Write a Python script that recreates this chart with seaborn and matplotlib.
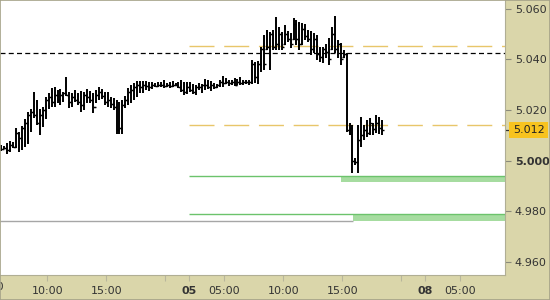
import numpy as np
import pandas as pd
import matplotlib
matplotlib.use("Agg")
import matplotlib.pyplot as plt
import matplotlib.transforms as mtransforms
from matplotlib.patches import Rectangle
import seaborn as sns

# ---------------- data (15-minute OHLC bars, session-hour axis) ----------------
high = [5.0061, 5.0057, 5.0069, 5.0077, 5.0073, 5.0128, 5.0113, 5.0136, 5.0164, 5.0192,
        5.0203, 5.0271, 5.0239, 5.0203, 5.0211, 5.0251, 5.0267, 5.0286, 5.0290, 5.0279,
        5.0282, 5.0271, 5.0330, 5.0271, 5.0267, 5.0279, 5.0267, 5.0275, 5.0271, 5.0282,
        5.0275, 5.0267, 5.0279, 5.0290, 5.0282, 5.0271, 5.0271, 5.0251, 5.0247, 5.0239,
        5.0231, 5.0239, 5.0255, 5.0286, 5.0298, 5.0306, 5.0314, 5.0314, 5.0314, 5.0314,
        5.0310, 5.0310, 5.0306, 5.0310, 5.0310, 5.0318, 5.0306, 5.0310, 5.0314, 5.0306,
        5.0310, 5.0318, 5.0310, 5.0310, 5.0310, 5.0302, 5.0298, 5.0306, 5.0302, 5.0322,
        5.0318, 5.0314, 5.0306, 5.0302, 5.0318, 5.0334, 5.0326, 5.0318, 5.0318, 5.0326,
        5.0322, 5.0330, 5.0318, 5.0318, 5.0318, 5.0397, 5.0389, 5.0393, 5.0448, 5.0496,
        5.0516, 5.0508, 5.0516, 5.0567, 5.0527, 5.0508, 5.0535, 5.0512, 5.0504, 5.0563,
        5.0555, 5.0547, 5.0543, 5.0539, 5.0516, 5.0512, 5.0504, 5.0496, 5.0448, 5.0448,
        5.0460, 5.0484, 5.0527, 5.0571, 5.0476, 5.0464, 5.0437, 5.0425, 5.0148, 5.0140,
        5.0010, 5.0140, 5.0172, 5.0140, 5.0160, 5.0168, 5.0148, 5.0180, 5.0172, 5.0160]
low = [5.0037, 5.0045, 5.0026, 5.0034, 5.0049, 5.0049, 5.0034, 5.0041, 5.0053, 5.0065,
       5.0113, 5.0168, 5.0140, 5.0101, 5.0132, 5.0164, 5.0203, 5.0211, 5.0211, 5.0227,
       5.0219, 5.0231, 5.0255, 5.0207, 5.0211, 5.0231, 5.0219, 5.0192, 5.0200, 5.0227,
       5.0227, 5.0188, 5.0227, 5.0239, 5.0243, 5.0219, 5.0211, 5.0207, 5.0200, 5.0105,
       5.0105, 5.0105, 5.0207, 5.0219, 5.0227, 5.0239, 5.0251, 5.0267, 5.0267, 5.0279,
       5.0275, 5.0282, 5.0290, 5.0290, 5.0290, 5.0286, 5.0290, 5.0286, 5.0290, 5.0294,
       5.0286, 5.0271, 5.0259, 5.0263, 5.0271, 5.0263, 5.0259, 5.0279, 5.0267, 5.0279,
       5.0282, 5.0275, 5.0282, 5.0286, 5.0290, 5.0290, 5.0302, 5.0294, 5.0298, 5.0294,
       5.0298, 5.0298, 5.0298, 5.0302, 5.0298, 5.0302, 5.0306, 5.0302, 5.0350, 5.0358,
       5.0437, 5.0358, 5.0437, 5.0437, 5.0437, 5.0437, 5.0456, 5.0468, 5.0444, 5.0476,
       5.0456, 5.0437, 5.0456, 5.0476, 5.0468, 5.0417, 5.0425, 5.0397, 5.0389, 5.0385,
       5.0405, 5.0377, 5.0437, 5.0425, 5.0405, 5.0377, 5.0405, 5.0113, 5.0101, 4.9951,
       4.9982, 4.9951, 5.0053, 5.0081, 5.0093, 5.0101, 5.0101, 5.0109, 5.0105, 5.0101]
open_ = [5.0050, 5.0045, 5.0050, 5.0040, 5.0060, 5.0055, 5.0110, 5.0090, 5.0130, 5.0150,
         5.0180, 5.0190, 5.0180, 5.0150, 5.0180, 5.0200, 5.0240, 5.0250, 5.0230, 5.0260,
         5.0240, 5.0260, 5.0265, 5.0260, 5.0230, 5.0250, 5.0240, 5.0230, 5.0220, 5.0260,
         5.0250, 5.0240, 5.0210, 5.0260, 5.0270, 5.0255, 5.0230, 5.0240, 5.0225, 5.0210,
         5.0120, 5.0130, 5.0220, 5.0240, 5.0270, 5.0280, 5.0290, 5.0300, 5.0290, 5.0300,
         5.0295, 5.0290, 5.0300, 5.0295, 5.0300, 5.0300, 5.0295, 5.0300, 5.0295, 5.0300,
         5.0300, 5.0290, 5.0280, 5.0270, 5.0290, 5.0280, 5.0270, 5.0290, 5.0290, 5.0300,
         5.0300, 5.0290, 5.0300, 5.0290, 5.0300, 5.0310, 5.0305, 5.0310, 5.0305, 5.0310,
         5.0300, 5.0310, 5.0305, 5.0310, 5.0310, 5.0310, 5.0380, 5.0330, 5.0380, 5.0440,
         5.0440, 5.0450, 5.0500, 5.0450, 5.0460, 5.0500, 5.0460, 5.0500, 5.0480, 5.0480,
         5.0540, 5.0480, 5.0460, 5.0520, 5.0490, 5.0480, 5.0440, 5.0480, 5.0420, 5.0410,
         5.0440, 5.0430, 5.0440, 5.0500, 5.0440, 5.0460, 5.0410, 5.0420, 5.0120, 5.0130,
         5.0000, 4.9995, 5.0080, 5.0100, 5.0120, 5.0110, 5.0140, 5.0125, 5.0150, 5.0130]
close = [5.0045, 5.0050, 5.0040, 5.0060, 5.0055, 5.0110, 5.0090, 5.0130, 5.0150, 5.0180,
         5.0190, 5.0180, 5.0150, 5.0180, 5.0200, 5.0240, 5.0250, 5.0230, 5.0260, 5.0240,
         5.0260, 5.0265, 5.0260, 5.0230, 5.0250, 5.0240, 5.0230, 5.0220, 5.0260, 5.0250,
         5.0240, 5.0210, 5.0260, 5.0270, 5.0255, 5.0230, 5.0240, 5.0225, 5.0210, 5.0120,
         5.0130, 5.0220, 5.0240, 5.0270, 5.0280, 5.0290, 5.0300, 5.0290, 5.0300, 5.0295,
         5.0290, 5.0300, 5.0295, 5.0300, 5.0300, 5.0295, 5.0300, 5.0295, 5.0300, 5.0300,
         5.0290, 5.0280, 5.0270, 5.0290, 5.0280, 5.0270, 5.0290, 5.0290, 5.0300, 5.0300,
         5.0290, 5.0300, 5.0290, 5.0300, 5.0310, 5.0305, 5.0310, 5.0305, 5.0310, 5.0300,
         5.0310, 5.0305, 5.0310, 5.0310, 5.0310, 5.0380, 5.0330, 5.0380, 5.0440, 5.0380,
         5.0450, 5.0500, 5.0450, 5.0460, 5.0500, 5.0450, 5.0500, 5.0480, 5.0460, 5.0540,
         5.0480, 5.0460, 5.0520, 5.0490, 5.0480, 5.0440, 5.0480, 5.0420, 5.0410, 5.0440,
         5.0430, 5.0400, 5.0500, 5.0440, 5.0460, 5.0400, 5.0420, 5.0120, 5.0130, 5.0000,
         4.9995, 5.0080, 5.0100, 5.0120, 5.0110, 5.0150, 5.0125, 5.0150, 5.0130, 5.0120]

black_level = 5.0426
gold_levels = [5.0452, 5.0140]
green_levels = [4.9939, 4.9787]
zone_bottoms = [4.9914, 4.9761]
zone_starts = [28.9, 29.9]      # session hours
gray_level = 4.9761
last_price = 5.012

tick_hours = [4, 9, 14, 16, 19, 24, 29, 34, 36, 39]
tick_labels = ["10:00", "15:00", "", "05", "05:00", "10:00", "15:00", "", "08", "05:00"]
ytick_vals = [4.960, 4.980, 5.000, 5.020, 5.040, 5.060]

# ---------------- figure ----------------
sns.set_theme(style="white")
plt.rcParams["font.family"] = ["DejaVu Sans"]

BAND = "#dad6aa"
FS = 8.0
fig = plt.figure(figsize=(5.5, 3.0), dpi=100)
fig.patch.set_facecolor(BAND)
ax = fig.add_axes([0, 25 / 300, 505 / 550, 275 / 300])
ax.set_facecolor("white")

n = len(high)
df = pd.DataFrame({"t": 0.125 + 0.25 * np.arange(n), "open": open_, "high": high,
                   "low": low, "close": close})

day2 = 16.0
xmax = 42.8

# levels
ax.hlines(gray_level, 0, zone_starts[1], color="#a6a6a6", lw=1.0, zorder=1)
for lv, zb, zs in zip(green_levels, zone_bottoms, zone_starts):
    ax.add_patch(Rectangle((zs, zb), xmax - zs, lv - zb, facecolor="#a6dca0",
                           edgecolor="none", zorder=1))
    ax.hlines(lv, day2, xmax, color="#6cc36c", lw=1.0, zorder=2)
for lv in gold_levels:
    ax.hlines(lv, day2, xmax, color="#e8c66a", lw=1.0, linestyles=(0, (18, 7)), zorder=2)
ax.hlines(black_level, 0, xmax, color="black", lw=0.9, linestyles=(0, (4, 2.6)), zorder=2)

# OHLC bars
ax.vlines(df["t"], df["low"], df["high"], color="black", lw=1.4, zorder=3)
ax.plot(df["t"], df["open"], ls="none", marker=0, ms=1.7, mew=1.0, color="black", zorder=3)
ax.plot(df["t"], df["close"], ls="none", marker=1, ms=1.7, mew=1.0, color="black", zorder=3)

ax.set_xlim(0, xmax)
ax.set_ylim(4.9548, 5.0634)

# axes styling
for s in ["left", "top"]:
    ax.spines[s].set_visible(False)
for s in ["right", "bottom"]:
    ax.spines[s].set_color("#b0ae94")
    ax.spines[s].set_linewidth(0.8)

ax.yaxis.tick_right()
ax.set_yticks(ytick_vals)
ax.set_yticklabels([f"{v:.3f}" for v in ytick_vals])
for lab, v in zip(ax.get_yticklabels(), ytick_vals):
    if abs(v - 5.0) < 1e-9:
        lab.set_fontweight("bold")
ax.tick_params(axis="y", direction="out", length=4, width=0.8, color="#8a8a7a",
               labelsize=FS, labelcolor="#333333", pad=3, right=True, left=False)

ax.set_xticks(tick_hours)
ax.set_xticklabels(tick_labels)
for lab in ax.get_xticklabels():
    if lab.get_text() in ("05", "08"):
        lab.set_fontweight("bold")
ax.tick_params(axis="x", direction="out", length=4, width=0.8, color="#b8b69c",
               labelsize=FS, labelcolor="#333333", pad=4, bottom=True)
ax.set_xlabel("")
ax.set_ylabel("")

# partial label at the left edge
ax.text(-1, -0.044, "05:00", transform=ax.get_xaxis_transform(), ha="center",
        va="center", fontsize=FS, color="#333333", clip_on=False)

# last price label
trans = mtransforms.blended_transform_factory(ax.transAxes, ax.transData)
ax.plot([1.0, 1.010], [last_price, last_price], transform=trans, color="#333333",
        lw=0.9, clip_on=False)
ax.text(1.0155, last_price, f"{last_price:.3f}", transform=trans, ha="left", va="center",
        fontsize=FS, color="#222222", clip_on=False,
        bbox=dict(boxstyle="square,pad=0.3", facecolor="#f7c31f", edgecolor="none"))

fig.add_artist(Rectangle((0, 0), 1, 1, transform=fig.transFigure, fill=False,
                         edgecolor="#a4a288", lw=1.2))

fig.savefig("out.png", dpi=100, facecolor=fig.get_facecolor())
